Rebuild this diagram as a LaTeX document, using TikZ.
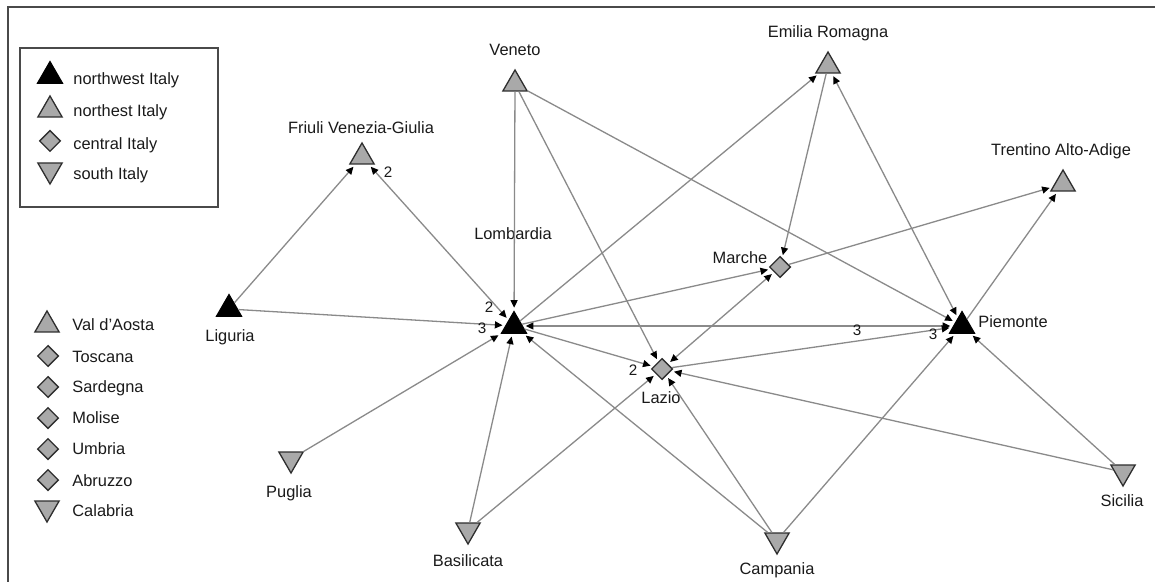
\documentclass[tikz,border=0pt]{standalone}
\usepackage{fontspec}
\setmainfont{Liberation Sans}
\usetikzlibrary{shapes.geometric,arrows.meta}
\definecolor{edgegray}{HTML}{8A8A8A}
\definecolor{nodegray}{HTML}{A9A9A9}
\definecolor{rimgray}{HTML}{2E2E2E}
\definecolor{inkgray}{HTML}{1A1A1A}
\definecolor{framegray}{HTML}{4A4A4A}
\tikzset{
  tip/.tip={Triangle[length=3.8pt,width=3.5pt,color=black]},
  link/.style={draw=edgegray, line width=0.65pt, -tip, shorten >=1.4pt},
  twoway/.style={draw=edgegray, line width=0.65pt, tip-tip, shorten >=1.4pt, shorten <=1.4pt},
  nwnode/.style={regular polygon, regular polygon sides=3, minimum size=14.6pt, inner sep=0pt,
                 fill=black, draw=black, line width=0.5pt},
  nenode/.style={regular polygon, regular polygon sides=3, minimum size=14pt, inner sep=0pt,
                 fill=nodegray, draw=rimgray, line width=0.65pt},
  cenode/.style={diamond, minimum width=10.6pt, minimum height=10.6pt, inner sep=0pt,
                 fill=nodegray, draw=rimgray, line width=0.65pt},
  sonode/.style={regular polygon, regular polygon sides=3, shape border rotate=180,
                 minimum size=14pt, inner sep=0pt, fill=nodegray, draw=rimgray, line width=0.65pt},
  lbl/.style={inner sep=0pt, text=inkgray, font=\fontsize{8.2}{10}\selectfont},
  wlbl/.style={lbl, anchor=west},
  num/.style={inner sep=0pt, text=inkgray, font=\fontsize{7.6}{9}\selectfont}
}
\begin{document}
\begin{tikzpicture}[x=0.5pt,y=-0.5pt]
\useasboundingbox (0,0) rectangle (1155,582);
\fill[white] (0,0) rectangle (1155,582);

% outer frame (left and top edges)
\draw[framegray, line width=0.8pt] (8,582) -- (8,7) -- (1155,7);

% legend of regions
\draw[framegray, line width=1pt] (20,48) rectangle (218,207);
\node[nwnode] (k1) at (50,76) {};
\node[wlbl] (k1t) at (73,80) {northwest Italy};
\node[nenode] (k2) at (50,110) {};
\node[wlbl] (k2t) at (73,112) {northest Italy};
\node[cenode] (k3) at (50,141) {};
\node[wlbl] (k3t) at (73,145) {central Italy};
\node[sonode] (k4) at (50,170) {};
\node[wlbl] (k4t) at (73,175) {south Italy};

% isolated regions
\node[nenode] (vda) at (47,325) {};
\node[wlbl] (vdaL) at (72,325) {Val d'Aosta};
\node[cenode] (tos) at (48,356) {};
\node[wlbl] (tosL) at (72,357) {Toscana};
\node[cenode] (sar) at (48,387) {};
\node[wlbl] (sarL) at (72,388) {Sardegna};
\node[cenode] (mol) at (48,418) {};
\node[wlbl] (molL) at (72,418) {Molise};
\node[cenode] (umb) at (48,449) {};
\node[wlbl] (umbL) at (72,449) {Umbria};
\node[cenode] (abr) at (48,480) {};
\node[wlbl] (abrL) at (72,481) {Abruzzo};
\node[sonode] (cal) at (47,508) {};
\node[wlbl] (calL) at (72,511) {Calabria};

% network nodes
\node[nenode] (ven) at (515,84) {};
\node[nenode] (emi) at (828,66) {};
\node[nenode] (fri) at (362,157) {};
\node[nenode] (tre) at (1063,184) {};
\node[nwnode] (lom) at (514,326) {};
\node[nwnode] (lig) at (229,309) {};
\node[cenode] (mar) at (780,267) {};
\node[nwnode] (pie) at (962,326) {};
\node[cenode] (laz) at (662,369) {};
\node[sonode] (pug) at (291,459) {};
\node[sonode] (bas) at (468,530) {};
\node[sonode] (cam) at (777,540) {};
\node[sonode] (sic) at (1123,472) {};

% node names
\node[lbl] (venL) at (515,50) {Veneto};
\node[lbl] (emiL) at (828,33) {Emilia Romagna};
\node[lbl] (friL) at (361,128) {Friuli Venezia-Giulia};
\node[lbl] (treL) at (1061,151) {Trentino Alto-Adige};
\node[lbl] (lomL) at (513,234) {Lombardia};
\node[lbl] (ligL) at (230,337) {Liguria};
\node[lbl] (marL) at (740,258) {Marche};
\node[lbl] (pieL) at (1013,322) {Piemonte};
\node[lbl] (lazL) at (661,398) {Lazio};
\node[lbl] (pugL) at (289,493) {Puglia};
\node[lbl] (basL) at (468,561) {Basilicata};
\node[lbl] (camL) at (777,570) {Campania};
\node[lbl] (sicL) at (1122,501) {Sicilia};

% ties
\draw[link] (lig) -- (fri);
\draw[twoway] (fri) -- (lom);
\draw[link] (lig) -- (lom);
\draw[link] (ven) -- (lom);
\draw[link] (ven) -- (laz);
\draw[link] (ven) -- (pie);
\draw[link] (lom) -- (emi);
\draw[link] (emi) -- (mar);
\draw[twoway] (emi) -- (pie);
\draw[link] (lom) -- (mar);
\draw[link] (mar) -- (tre);
\draw[twoway] (mar) -- (laz);
\draw[twoway] (lom) -- (pie);
\draw[link] (laz) -- (pie);
\draw[link] (pie) -- (tre);
\draw[link] (lom) -- (laz);
\draw[link] (pug) -- (lom);
\draw[link] (bas) -- (lom);
\draw[link] (bas) -- (laz);
\draw[link] (cam) -- (lom);
\draw[link] (cam) -- (laz);
\draw[link] (cam) -- (pie);
\draw[link] (sic) -- (laz);
\draw[link] (sic) -- (pie);

% tie values
\node[num] (v1) at (388,172) {2};
\node[num] (v2) at (489,307) {2};
\node[num] (v3) at (482,328) {3};
\node[num] (v4) at (857,330) {3};
\node[num] (v5) at (933,334) {3};
\node[num] (v6) at (633,370) {2};
\end{tikzpicture}
\end{document}
